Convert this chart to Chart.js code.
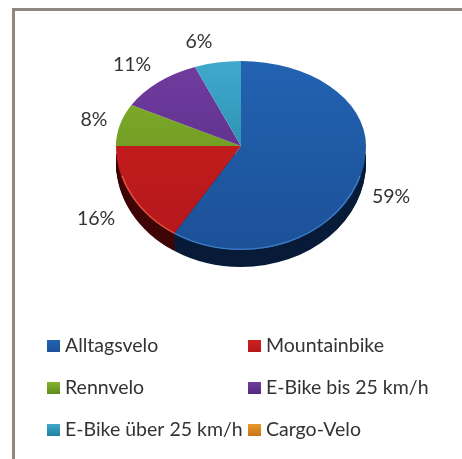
<!DOCTYPE html>
<html><head><meta charset="utf-8">
<style>
html,body{margin:0;padding:0;background:#fff;width:462px;height:459px;overflow:hidden}
#frame{position:absolute;left:12px;top:8px;width:450px;height:451px;border-left:3px solid #8f8680;border-top:3px solid #8f8680;box-sizing:border-box}
canvas{position:absolute;left:0;top:0;filter:blur(0.4px)}
</style></head><body>
<div id="frame"></div>
<canvas id="c" width="462" height="459"></canvas>
<script src="https://cdn.jsdelivr.net/npm/chart.js@4/dist/chart.umd.min.js"></script>
<script>
const categories = ["Alltagsvelo","Mountainbike","Rennvelo","E-Bike bis 25 km/h","E-Bike über 25 km/h","Cargo-Velo"];
const shares = [59,16,8,11,6,0];
const faceTop = ["#2263b2","#d0201f","#86b22c","#713c9f","#3fa9cc","#ea9a2a"];
const faceBottom = ["#1c5198","#b3171b","#5f8c1e","#532a82","#1f7f9f","#c9741a"];
const sideColors = ["#081b38","#3f0506","#3a5510","#2f164d","#0f4a60","#6e3f0b"];
const rimColors = ["#3f7cc6","#e4553c","#9cc04a","#8a5ab5","#66bfdc","#f0b050"];
const labelSpots = [[391,197],[96,219],[94,120],[132,65],[199,42]];
const legendCols = [47,248];
const legendRows = [346,388,430];
const FONT = 'Lato, "Open Sans", sans-serif';
const squashUp = 85/125, squashDown = 104/125, depth = 17;

const pie3d = {
  id:'pie3d',
  beforeDatasetsDraw(chart){
    const ctx = chart.ctx, arcs = chart.getDatasetMeta(0).data;
    const cx = arcs[0].x, cy = arcs[0].y;
    // side wall, front half only
    ctx.save();
    ctx.beginPath(); ctx.rect(0,cy+8,chart.width,chart.height); ctx.clip();
    for(let d=depth;d>=1;d--){
      arcs.forEach((a,i)=>{
        ctx.save();
        ctx.translate(cx,cy+d); ctx.scale(1,squashDown); ctx.translate(-cx,-cy);
        ctx.beginPath(); ctx.moveTo(a.x,a.y);
        ctx.arc(a.x,a.y,a.outerRadius,a.startAngle,a.endAngle); ctx.closePath();
        ctx.fillStyle = sideColors[i]; ctx.fill();
        ctx.restore();
      });
    }
    ctx.restore();
    // top face: upper and lower halves with different perspective squash
    const half = (y0,h,s)=>{
      ctx.save();
      ctx.beginPath(); ctx.rect(0,y0,chart.width,h); ctx.clip();
      ctx.translate(cx,cy); ctx.scale(1,s); ctx.translate(-cx,-cy);
      arcs.forEach(a=>a.draw(ctx));
      ctx.restore();
    };
    half(0,cy+0.5,squashUp);
    half(cy,chart.height-cy,squashDown);
    // lit rim along the front edge
    ctx.save();
    ctx.beginPath(); ctx.rect(0,cy+30,chart.width,chart.height); ctx.clip();
    ctx.translate(cx,cy); ctx.scale(1,squashDown); ctx.translate(-cx,-cy);
    arcs.forEach((a,i)=>{
      if(a.endAngle-a.startAngle<=0) return;
      ctx.beginPath(); ctx.arc(a.x,a.y,a.outerRadius-0.8,a.startAngle,a.endAngle);
      ctx.strokeStyle = rimColors[i]; ctx.lineWidth = 1.5; ctx.stroke();
    });
    ctx.restore();
    return false;
  },
  afterDraw(chart){
    const ctx = chart.ctx;
    ctx.save();
    ctx.fillStyle = '#333';
    ctx.textBaseline = 'middle';
    ctx.font = '19.5px '+FONT;
    ctx.textAlign = 'center';
    labelSpots.forEach((p,i)=>ctx.fillText(shares[i]+'%',p[0],p[1]));
    ctx.textAlign = 'left';
    categories.forEach((name,i)=>{
      const x = legendCols[i%2], y = legendRows[Math.floor(i/2)];
      const g = ctx.createLinearGradient(0,y-6,0,y+6);
      g.addColorStop(0,faceTop[i]); g.addColorStop(1,faceBottom[i]);
      ctx.fillStyle = g; ctx.fillRect(x,y-6,13,12);
      ctx.fillStyle = '#333';
      ctx.fillText(name,x+18,y);
    });
    ctx.restore();
  }
};

new Chart(document.getElementById('c'),{
  type:'pie',
  data:{labels:categories,datasets:[{
    data:shares,
    borderWidth:0,
    backgroundColor(c){
      const g = c.chart.ctx.createLinearGradient(0,21,0,271);
      g.addColorStop(0,faceTop[c.dataIndex]); g.addColorStop(1,faceBottom[c.dataIndex]);
      return g;
    }
  }]},
  options:{
    responsive:false,animation:false,
    layout:{padding:{left:116,right:96,top:21,bottom:188}},
    plugins:{legend:{display:false},tooltip:{enabled:false}}
  },
  plugins:[pie3d]
});
</script>
</body></html>
